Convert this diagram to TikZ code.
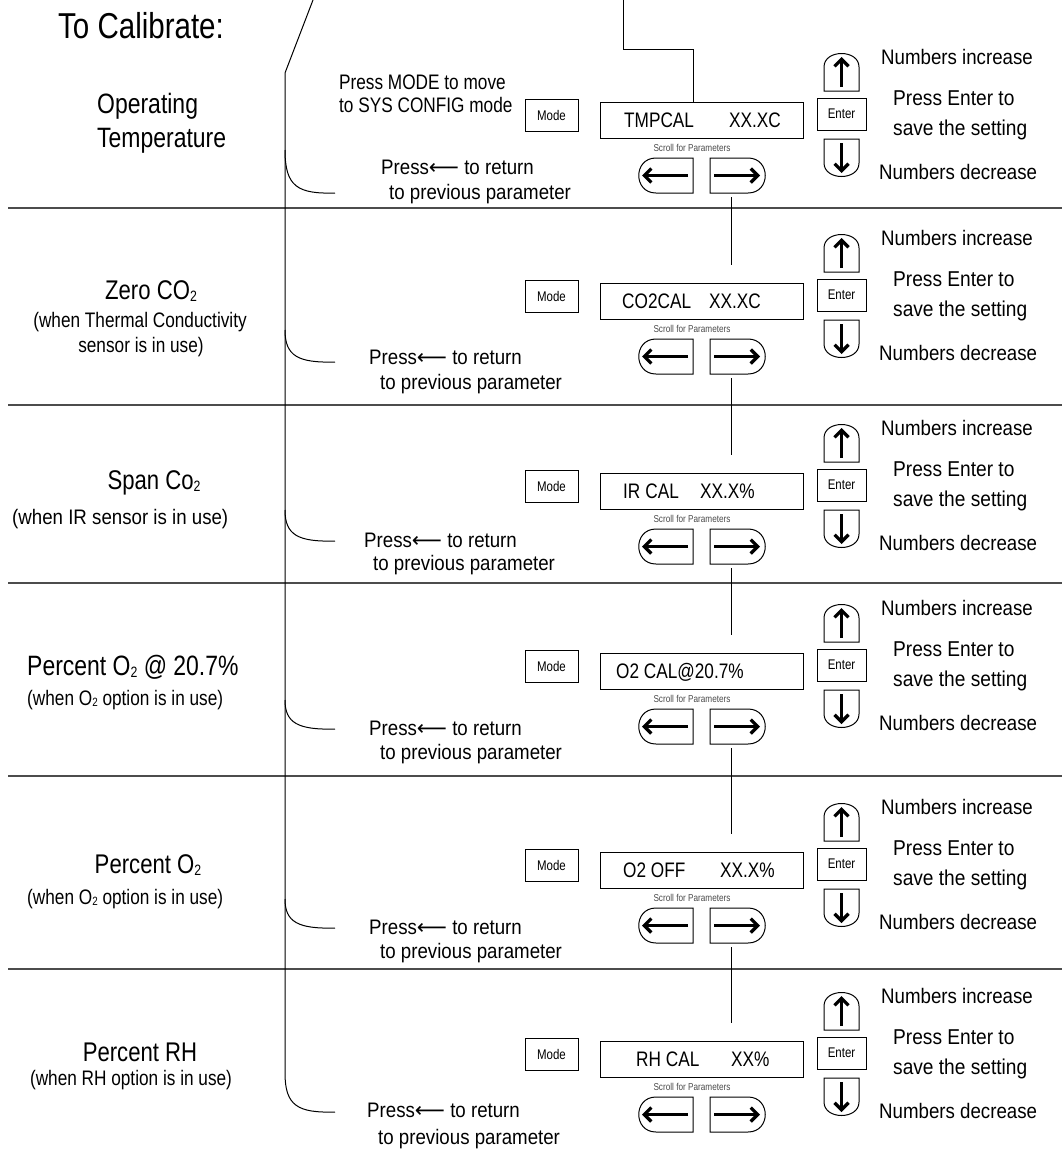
\documentclass[tikz,border=0pt]{standalone}
\usepackage{fontspec}
\setmainfont[FakeStretch=0.82]{Liberation Sans}
\newfontfamily\mainw[FakeStretch=0.89]{Liberation Sans}
\newfontfamily\arrowfont{DejaVu Sans}
\usetikzlibrary{arrows.meta}
\newcommand\fsz[1]{\fontsize{#1}{#1}\selectfont}
\newcommand\subtwo{\raisebox{-2pt}{\fsz{15}2}}
\newcommand\subtwos{\raisebox{-1pt}{\fsz{12}2}}
\tikzset{
  every node/.style={inner sep=0pt},
  mtxt/.style={font=\mainw\fsz{21}, anchor=base west, yshift=-7.5pt},
  etxt/.style={font=\mainw\fsz{21.5}, anchor=base west, yshift=-7.7pt},
  subw/.style={font=\fsz{21}, anchor=base west, yshift=-7.5pt},
  subc/.style={font=\fsz{21}, anchor=base, yshift=-7.5pt},
  ttl/.style={font=\fsz{27}, anchor=base, yshift=-9.7pt},
  ttlw/.style={font=\fsz{28}, anchor=base west, yshift=-10pt},
  modebox/.style={draw, line width=1pt, minimum width=53pt, minimum height=32pt, font=\fsz{14}},
  enterbox/.style={draw, line width=1pt, minimum width=49pt, minimum height=32pt, font=\fsz{14}},
  dispbox/.style={draw, line width=1pt, minimum width=203pt, minimum height=36pt},
  disptxt/.style={font=\fsz{21}, anchor=base west, yshift=-7.5pt},
  scrolltxt/.style={font=\fsz{10}, text=black!70},
  btn/.style={draw, line width=1pt},
  bigarrow/.style={line width=3.2pt, -{Straight Barb[length=7pt,width=14pt]}},
  vline/.style={line width=1pt},
  conn/.style={line width=1pt},
  sepline/.style={line width=1.6pt, draw=black!70},
}
\newcommand\calrow[2]{%
  \node[modebox] (mode#1) at (551.5,#2+115) {Mode};
  \node[dispbox] (disp#1) at (701.5,#2+120) {};
  \node[scrolltxt] (scroll#1) at (692,#2+148) {Scroll for Parameters};
  \draw[btn] (693,#2+158) -- (656,#2+158) .. controls (633,#2+158) and (633,#2+193) .. (656,#2+193) -- (693,#2+193) -- cycle;
  \draw[btn] (710,#2+158) -- (748,#2+158) .. controls (771,#2+158) and (771,#2+193) .. (748,#2+193) -- (710,#2+193) -- cycle;
  \draw[bigarrow] (688,#2+175.5) -- (642,#2+175.5);
  \draw[bigarrow] (714,#2+175.5) -- (760,#2+175.5);
  \draw[btn] (824,#2+91) -- (824,#2+67) .. controls (824,#2+49) and (859,#2+49) .. (859,#2+67) -- (859,#2+91) -- cycle;
  \draw[bigarrow] (841.5,#2+87) -- (841.5,#2+57);
  \node[enterbox] (enter#1) at (841.5,#2+114) {Enter};
  \draw[btn] (824,#2+139) -- (859,#2+139) -- (859,#2+163) .. controls (859,#2+181) and (824,#2+181) .. (824,#2+163) -- cycle;
  \draw[bigarrow] (841.5,#2+143) -- (841.5,#2+173);
  \node[mtxt] (ni#1) at (881,#2+57) {Numbers increase};
  \node[etxt] (pe#1) at (893,#2+98) {Press Enter to};
  \node[etxt] (ps#1) at (893,#2+128) {save the setting};
  \node[mtxt] (nd#1) at (879,#2+172) {Numbers decrease};
  \coordinate (cout#1) at (731,#2+197);
  \coordinate (cin#1) at (731,#2+84);
}
\newcommand\pressret[5]{% id, x1, y1, x2, y2
  \node[mtxt] (pr#1) at (#2,#3) {Press{\arrowfont\fsz{21}⟵} to return};
  \node[mtxt] (pp#1) at (#4,#5) {to previous parameter};
}
\begin{document}
\begin{tikzpicture}[x=1pt,y=-1pt]
\useasboundingbox (0,0) rectangle (1062,1157);
\fill[white] (0,0) rectangle (1062,1157);

% separators
\foreach \yy in {208,405,583,776,969} \draw[sepline] (8,\yy) -- (1062,\yy);

% title
\node[font=\fsz{36}, anchor=base west] (title) at (58,38) {To Calibrate:};

% rows
\calrow{1}{0}
\calrow{2}{181}
\calrow{3}{371}
\calrow{4}{551}
\calrow{5}{750}
\calrow{6}{939}

% display texts
\node[disptxt] (d1a) at (624,120) {TMPCAL};
\node[disptxt] (d1b) at (729,120) {XX.XC};
\node[disptxt] (d2a) at (622,301) {CO2CAL};
\node[disptxt] (d2b) at (709,301) {XX.XC};
\node[disptxt] (d3a) at (623,491) {IR\hspace{5pt}CAL};
\node[disptxt] (d3b) at (700,491) {XX.X\%};
\node[disptxt] (d4a) at (616,671) {O2 CAL@20.7\%};
\node[disptxt] (d5a) at (623,870) {O2 OFF};
\node[disptxt] (d5b) at (720,870) {XX.X\%};
\node[disptxt] (d6a) at (636,1059) {RH CAL};
\node[disptxt] (d6b) at (731,1059) {XX\%};

% row titles
\node[ttlw] (t1a) at (97,103) {Operating};
\node[ttlw] (t1b) at (97,137) {Temperature};
\node[ttl] (t2a) at (151,290) {Zero CO\subtwo};
\node[subc] (t2b) at (140,320) {(when Thermal Conductivity};
\node[subc] (t2c) at (141,345) {sensor is in use)};
\node[ttl] (t3a) at (154,480) {Span Co\subtwo};
\node[subw] (t3b) at (12,517) {\mainw (when IR sensor is in use)};
\node[ttlw] (t4a) at (27,665) {Percent O\subtwo{} @ 20.7\%};
\node[subw] (t4b) at (27,698) {(when O\subtwos{} option is in use)};
\node[ttl] (t5a) at (148,864) {Percent O\subtwo};
\node[subw] (t5b) at (27,897) {(when O\subtwos{} option is in use)};
\node[ttl] (t6a) at (140,1052) {Percent RH};
\node[subc] (t6b) at (131,1078) {(when RH option is in use)};

% press MODE
\node[subw] (pm1) at (339,82) {Press MODE to move};
\node[subw] (pm2) at (339,105) {to SYS CONFIG mode};

% press back texts
\pressret{1}{381}{167}{389}{192}
\pressret{2}{369}{357}{380}{382}
\pressret{3}{364}{540}{373}{563}
\pressret{4}{369}{728}{380}{752}
\pressret{5}{369}{927}{380}{951}
\pressret{6}{367}{1110}{378}{1137}

% left bracket line and curves
\coordinate (ltop) at (313,0);
\coordinate (lbend) at (285,73);
\coordinate (c1s) at (285,150); \coordinate (c1e) at (335,193);
\coordinate (c2s) at (285,330); \coordinate (c2e) at (335,362);
\coordinate (c3s) at (285,510); \coordinate (c3e) at (335,541);
\coordinate (c4s) at (285,700); \coordinate (c4e) at (335,729);
\coordinate (c5s) at (285,899); \coordinate (c5e) at (335,928);
\coordinate (c6s) at (285,1073); \coordinate (c6e) at (335,1112);
\draw[vline] (ltop) -- (lbend) -- (c6s) .. controls (285,1106) and (298,1113) .. (c6e);
\draw[vline] (c1s) .. controls (285,187) and (298,194) .. (c1e);
\draw[vline] (c2s) .. controls (285,356) and (298,363) .. (c2e);
\draw[vline] (c3s) .. controls (285,535) and (298,542) .. (c3e);
\draw[vline] (c4s) .. controls (285,723) and (298,730) .. (c4e);
\draw[vline] (c5s) .. controls (285,922) and (298,929) .. (c5e);

% top connector
\coordinate (tin) at (623,0);
\draw[conn] (tin) |- (693,49) -- (disp1.north -| 693,0);

% row connectors
\draw[conn] (cout1) -- (cin2);
\draw[conn] (cout2) -- (cin3);
\draw[conn] (cout3) -- (cin4);
\draw[conn] (cout4) -- (cin5);
\draw[conn] (cout5) -- (cin6);
\end{tikzpicture}
\end{document}
